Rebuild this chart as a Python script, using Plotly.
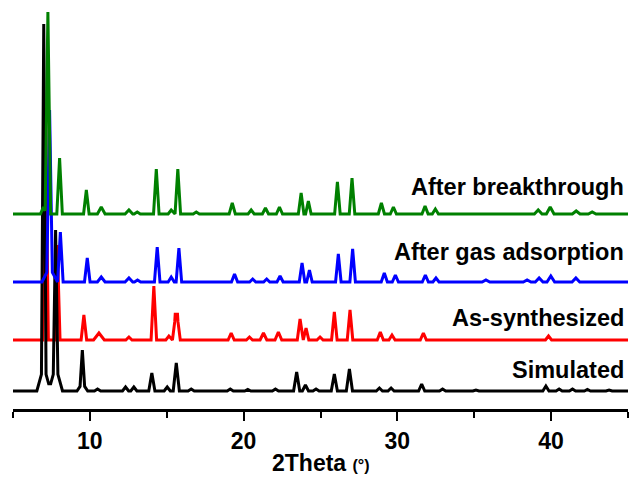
import plotly.graph_objects as go

# ---- data (2Theta in degrees, intensity in arbitrary units) ----
SIM_POS = [7.00, 7.00, 7.77, 7.77, 9.51, 9.51, 10.50, 12.32, 12.86, 14.03, 15.03, 15.62,
           16.59, 19.13, 20.27, 22.07, 23.45, 24.02, 24.71, 25.90, 26.88, 28.83, 29.59,
           31.58, 32.94, 35.11, 39.66, 40.52, 41.39, 42.36, 43.77]
SIM_HT = [342, 25, 136, 25, 33, 8, 2, 4, 4, 18, 4, 28,
          2, 2, 1.5, 2, 19, 6, 2, 17, 22, 3, 3,
          7, 2, 1, 5, 2, 2, 1.5, 1]
SIM_W = [0.15, 0.45, 0.15, 0.45, 0.15, 0.35, 0.2, 0.2, 0.2, 0.2, 0.2, 0.2,
         0.2, 0.2, 0.2, 0.2, 0.2, 0.2, 0.2, 0.2, 0.2, 0.2, 0.2,
         0.2, 0.2, 0.2, 0.2, 0.2, 0.2, 0.2, 0.2]

AS_POS = [7.12, 7.88, 9.61, 10.59, 12.54, 14.16, 15.14, 15.55, 15.70, 19.19, 20.38,
          21.29, 22.26, 23.67, 24.06, 24.97, 25.90, 26.92, 28.89, 29.65, 31.69, 39.83]
AS_HT = [232, 95, 25, 7, 3, 54, 4, 22, 22, 7, 3,
         7, 8, 21, 12, 3, 28, 30, 8, 5, 7, 4]
AS_W = [0.18, 0.18, 0.18, 0.35, 0.2, 0.18, 0.2, 0.18, 0.18, 0.2, 0.2,
        0.22, 0.22, 0.18, 0.18, 0.2, 0.18, 0.18, 0.2, 0.2, 0.2, 0.2]

GAS_POS = [7.38, 7.38, 8.08, 9.83, 10.74, 12.54, 13.10, 14.38, 15.29, 15.79, 19.41,
           20.59, 21.50, 22.37, 23.80, 24.28, 26.16, 27.09, 29.15, 29.87, 31.82, 32.51,
           35.76, 38.44, 39.22, 39.98, 41.61]
GAS_HT = [157, 15, 50, 24, 5, 4, 2, 35, 5, 34, 8,
          3, 3, 6, 19, 12, 28, 33, 9, 7, 7, 4,
          2, 2, 4, 6, 4]
GAS_W = [0.18, 0.5, 0.18, 0.18, 0.25, 0.25, 0.2, 0.18, 0.2, 0.18, 0.2,
         0.2, 0.2, 0.2, 0.18, 0.18, 0.18, 0.18, 0.2, 0.2, 0.2, 0.2,
         0.25, 0.25, 0.25, 0.25, 0.25]

BT_POS = [6.98, 7.27, 8.03, 9.77, 10.74, 12.54, 13.08, 14.32, 15.29, 15.72, 16.92,
          19.26, 20.49, 21.42, 22.33, 23.74, 24.21, 26.10, 27.05, 28.96, 29.74,
          31.80, 32.47, 39.16, 39.94, 41.63, 42.67]
BT_HT = [7, 202, 56, 24, 7, 4, 2, 45, 4, 45, 2,
         11, 4, 6, 7, 21, 13, 32, 36, 11, 7,
         8, 5, 4, 7, 3, 2]
BT_W = [0.2, 0.18, 0.18, 0.18, 0.25, 0.25, 0.2, 0.18, 0.2, 0.18, 0.2,
        0.2, 0.2, 0.2, 0.2, 0.18, 0.18, 0.18, 0.18, 0.2, 0.2,
        0.2, 0.2, 0.25, 0.25, 0.25, 0.25]

OFFSETS = {"Simulated": 18, "As-synthesized": 69, "After gas adsorption": 127,
           "After breakthrough": 195}
LABELS = ["After breakthrough", "After gas adsorption", "As-synthesized", "Simulated"]
X_TICKS = [10, 20, 30, 40]
X_MINOR = [5, 15, 25, 35, 45]
X_MIN, X_MAX = 5, 45


def profile(pos, ht, wid, base):
    """Piecewise-linear sum of triangular peaks, evaluated at its breakpoints."""
    pts = {X_MIN, X_MAX}
    for p, w in zip(pos, wid):
        for q in (p - w, p, p + w):
            if X_MIN <= q <= X_MAX:
                pts.add(round(q, 4))
    xs = sorted(pts)
    ys = []
    for x in xs:
        v = base
        for p, h, w in zip(pos, ht, wid):
            d = abs(x - p)
            if d < w:
                v += h * (1 - d / w)
        ys.append(v)
    return xs, ys


series = [
    ("As-synthesized", AS_POS, AS_HT, AS_W, "#ff0000"),
    ("Simulated", SIM_POS, SIM_HT, SIM_W, "#000000"),
    ("After gas adsorption", GAS_POS, GAS_HT, GAS_W, "#0000ff"),
    ("After breakthrough", BT_POS, BT_HT, BT_W, "#008000"),
]

fig = go.Figure()
for name, pos, ht, wid, col in series:
    xs, ys = profile(pos, ht, wid, OFFSETS[name])
    fig.add_trace(go.Scatter(x=xs, y=ys, mode="lines", name=name,
                             line=dict(color=col, width=3), showlegend=False))

ML, MR, MT, MB = 13, 2, 9, 68
W, H = 630, 477
PW, PH = W - ML - MR, H - MT - MB
FONT = "Liberation Sans, Arial, sans-serif"

label_y_px = {"After breakthrough": 187, "After gas adsorption": 252,
              "As-synthesized": 318, "Simulated": 370}
for lab in LABELS:
    fig.add_annotation(
        text="<b>" + lab + "</b>", xref="paper", yref="paper",
        x=(626 - ML) / PW, y=(H - MB - label_y_px[lab]) / PH,
        xanchor="right", yanchor="middle", showarrow=False,
        font=dict(family=FONT, size=23.5, color="black"))

fig.add_annotation(
    text="<b>2Theta </b><b><span style='font-size:16px'>(°)</span></b>",
    xref="paper", yref="paper", x=(321 - ML) / PW, y=(H - MB - 463) / PH,
    xanchor="center", yanchor="middle", showarrow=False,
    font=dict(family=FONT, size=23, color="black"))

fig.update_layout(
    width=W, height=H, margin=dict(l=ML, r=MR, t=MT, b=MB),
    plot_bgcolor="white", paper_bgcolor="white", showlegend=False,
    xaxis=dict(range=[X_MIN, X_MAX], showline=True, linecolor="black", linewidth=2.5,
               ticks="outside", tickvals=X_TICKS,
               ticktext=["<b>" + str(t) + "</b>" for t in X_TICKS],
               ticklen=9, tickwidth=2, tickcolor="black", ticklabelstandoff=1,
               minor=dict(tickvals=X_MINOR, ticks="outside", ticklen=6, tickwidth=2,
                          tickcolor="black"),
               showgrid=False, zeroline=False,
               tickfont=dict(family=FONT, size=23, color="black")),
    yaxis=dict(range=[0, 400], visible=False, showgrid=False, zeroline=False),
)

fig.write_html("out.html")
